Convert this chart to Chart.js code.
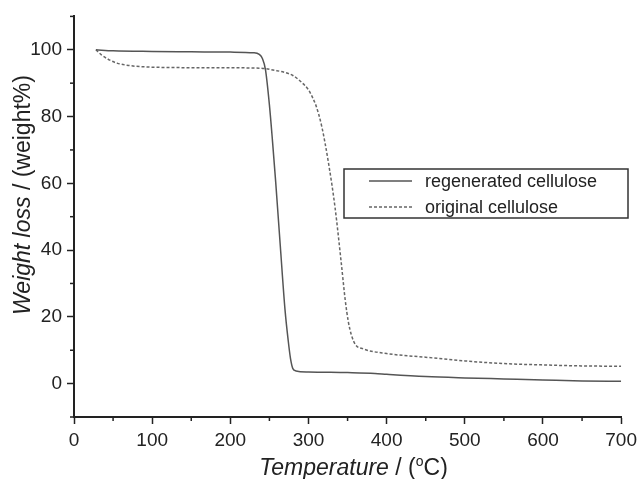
<!DOCTYPE html>
<html>
<head>
<meta charset="utf-8">
<script src="https://cdn.jsdelivr.net/npm/chart.js@4.4.0/dist/chart.umd.min.js"></script>
<style>
  html, body { margin: 0; padding: 0; background: #fff; }
  #chart { display: block; }
</style>
</head>
<body>
<canvas id="chart" width="642" height="479"></canvas>
<script>
// TGA curves
const regenTemp   = [28, 50, 100, 150, 200, 230, 237, 241, 245, 250, 254, 258, 264, 270, 274, 277, 280, 284, 300, 350, 385, 400, 450, 500, 550, 600, 650, 700];
const regenWeight = [100, 99.7, 99.5, 99.4, 99.3, 99.1, 98.6, 97.4, 94, 83.5, 72.5, 60.5, 41, 22, 13, 7.5, 4.5, 3.8, 3.5, 3.3, 3.05, 2.8, 2.1, 1.7, 1.4, 1.1, 0.8, 0.7];

const origTemp   = [28, 35, 45, 55, 70, 90, 120, 200, 237, 258, 270, 280, 290, 300, 305, 310, 317, 326, 334, 342, 347, 351, 355, 360, 370, 400, 450, 500, 550, 600, 650, 700];
const origWeight = [100, 98.5, 97, 96, 95.3, 94.9, 94.7, 94.6, 94.5, 93.8, 93.2, 92.3, 90.5, 88, 85.8, 83, 77, 65.5, 52.7, 36, 25, 18.5, 14.5, 11.7, 10.4, 9.0, 7.9, 6.8, 6.0, 5.6, 5.3, 5.2];

const seriesNames = ['regenerated cellulose', 'original cellulose'];
const xMajor = [0, 100, 200, 300, 400, 500, 600, 700];
const yMajor = [0, 20, 40, 60, 80, 100];

const toPoints = (xs, ys) => xs.map((x, i) => ({ x: x, y: ys[i] }));

const axisColor = '#222';
const FONT = '"Liberation Sans", Arial, sans-serif';

// minor ticks, legend box and axis titles
const extras = {
  id: 'extras',
  afterDraw(chart) {
    const ctx = chart.ctx;
    const xs = chart.scales.x, ys = chart.scales.y;
    const area = chart.chartArea;
    ctx.save();
    ctx.strokeStyle = axisColor;
    ctx.lineWidth = 1.5;
    // minor ticks
    for (let v = 50; v < 700; v += 100) {
      const px = xs.getPixelForValue(v);
      ctx.beginPath(); ctx.moveTo(px, area.bottom); ctx.lineTo(px, area.bottom + 4); ctx.stroke();
    }
    for (let v = -10; v <= 110; v += 20) {
      const py = ys.getPixelForValue(v);
      ctx.beginPath(); ctx.moveTo(area.left, py); ctx.lineTo(area.left - 4, py); ctx.stroke();
    }

    // legend
    ctx.lineWidth = 1.5;
    ctx.strokeStyle = '#333';
    ctx.strokeRect(344, 169, 284, 49);
    const rows = [181, 207];
    chart.data.datasets.forEach((ds, i) => {
      ctx.strokeStyle = ds.borderColor;
      ctx.lineWidth = ds.borderWidth;
      ctx.setLineDash(ds.borderDash || []);
      ctx.beginPath(); ctx.moveTo(369, rows[i]); ctx.lineTo(412, rows[i]); ctx.stroke();
      ctx.setLineDash([]);
      ctx.fillStyle = axisColor;
      ctx.font = '18px ' + FONT;
      ctx.textBaseline = 'middle';
      ctx.textAlign = 'left';
      ctx.fillText(ds.label, 425, rows[i] + 1);
    });

    // x title: Temperature / (°C)
    ctx.fillStyle = axisColor;
    ctx.textBaseline = 'alphabetic';
    const it = 'italic 23px ' + FONT, up = '23px ' + FONT, sup = '14px ' + FONT;
    const parts = [['Temperature', it, 0], [' / (', up, 0], ['o', sup, -9], ['C)', up, 0]];
    let total = 0;
    parts.forEach(p => { ctx.font = p[1]; total += ctx.measureText(p[0]).width; });
    let cx = (area.left + area.right) / 2 + 6 - total / 2;
    parts.forEach(p => {
      ctx.font = p[1];
      ctx.fillText(p[0], cx, 475 + p[2]);
      cx += ctx.measureText(p[0]).width;
    });

    // y title: Weight loss / (weight%)
    ctx.translate(30, 195);
    ctx.rotate(-Math.PI / 2);
    const yParts = [['Weight loss', it], [' / (weight%)', up]];
    total = 0;
    yParts.forEach(p => { ctx.font = p[1]; total += ctx.measureText(p[0]).width; });
    cx = -total / 2;
    yParts.forEach(p => {
      ctx.font = p[1];
      ctx.fillText(p[0], cx, 0);
      cx += ctx.measureText(p[0]).width;
    });
    ctx.restore();
  }
};

new Chart(document.getElementById('chart').getContext('2d'), {
  type: 'scatter',
  data: {
    datasets: [{
      label: seriesNames[0],
      data: toPoints(regenTemp, regenWeight),
      showLine: true,
      borderColor: '#555',
      borderWidth: 1.5,
      pointRadius: 0,
      cubicInterpolationMode: 'monotone'
    }, {
      label: seriesNames[1],
      data: toPoints(origTemp, origWeight),
      showLine: true,
      borderColor: '#666',
      borderWidth: 1.5,
      borderDash: [3, 2],
      pointRadius: 0,
      cubicInterpolationMode: 'monotone'
    }]
  },
  options: {
    responsive: false,
    animation: false,
    layout: { padding: { left: 0, right: 18, top: 13, bottom: 0 } },
    plugins: {
      legend: { display: false },
      tooltip: { enabled: false }
    },
    scales: {
      x: {
        type: 'linear',
        min: 0,
        max: 700,
        afterBuildTicks: s => { s.ticks = xMajor.map(v => ({ value: v })); },
        afterFit: s => { s.height = 62; },
        ticks: { color: axisColor, font: { family: FONT, size: 19 }, padding: 5, maxRotation: 0 },
        grid: { drawOnChartArea: false, tickLength: 7, tickColor: axisColor, tickWidth: 1.5 },
        border: { color: axisColor, width: 2 }
      },
      y: {
        min: -10,
        max: 110,
        afterBuildTicks: s => { s.ticks = yMajor.map(v => ({ value: v })); },
        afterFit: s => { s.width = 74; },
        ticks: { color: axisColor, font: { family: FONT, size: 19 }, padding: 5 },
        grid: { drawOnChartArea: false, tickLength: 7, tickColor: axisColor, tickWidth: 1.5 },
        border: { color: axisColor, width: 2 }
      }
    }
  },
  plugins: [extras]
});
</script>
</body>
</html>
